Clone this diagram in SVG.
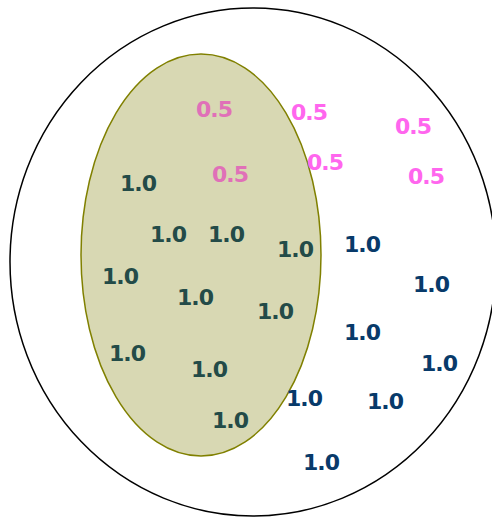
<svg xmlns="http://www.w3.org/2000/svg" width="492" height="518" viewBox="0 0 492 518">
<style>
text{font-family:"DejaVu Sans","Verdana",sans-serif;font-weight:bold;font-size:22px;letter-spacing:-1px}
.in{fill:#234b48}
.out{fill:#083a6a}
.pi{fill:#e070b8}
.po{fill:#ff66ee}
</style>
<g id="universe"><ellipse cx="253" cy="262" rx="243" ry="254" fill="#ffffff" stroke="#000000" stroke-width="1.5"/></g>
<g id="set"><ellipse cx="201" cy="255" rx="120" ry="201" fill="#d8d8b3" stroke="#808000" stroke-width="1.5"/></g>
<g id="connectors"></g>
<g id="labels">
<text class="in" x="120" y="191">1.0</text>
<text class="in" x="150" y="242">1.0</text>
<text class="in" x="208" y="242">1.0</text>
<text class="in" x="277" y="257">1.0</text>
<text class="in" x="102" y="284">1.0</text>
<text class="in" x="177" y="305">1.0</text>
<text class="in" x="257" y="319">1.0</text>
<text class="in" x="109" y="361">1.0</text>
<text class="in" x="191" y="377">1.0</text>
<text class="in" x="212" y="428">1.0</text>
<text class="pi" x="196" y="117">0.5</text>
<text class="pi" x="212" y="182">0.5</text>
<text class="po" x="291" y="120">0.5</text>
<text class="po" x="395" y="134">0.5</text>
<text class="po" x="307" y="170">0.5</text>
<text class="po" x="408" y="184">0.5</text>
<text class="out" x="344" y="252">1.0</text>
<text class="out" x="413" y="292">1.0</text>
<text class="out" x="344" y="340">1.0</text>
<text class="out" x="421" y="371">1.0</text>
<text class="out" x="286" y="406">1.0</text>
<text class="out" x="367" y="409">1.0</text>
<text class="out" x="303" y="470">1.0</text>
</g>
</svg>
